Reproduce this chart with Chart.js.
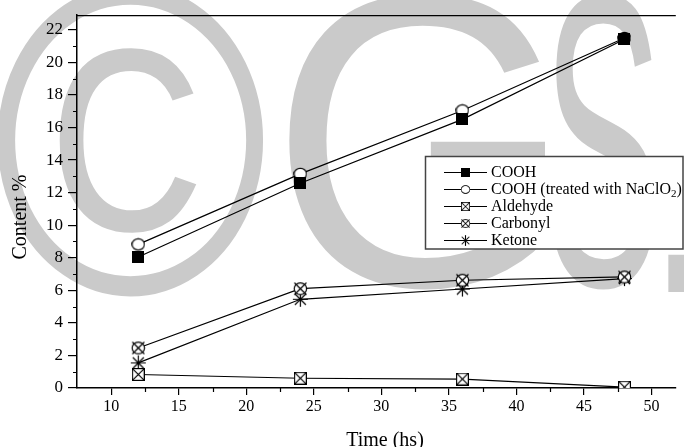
<!DOCTYPE html>
<html><head><meta charset="utf-8">
<script src="https://cdn.jsdelivr.net/npm/chart.js@4"></script>
<style>html,body{margin:0;padding:0;background:#fff}#wrap{width:684px;height:447px;position:relative}</style>
</head><body><div id="wrap"><canvas id="c" width="684" height="447"></canvas></div>
<script>
// ---- data ----
const times = [12, 24, 36, 48];
const cooh = [8.05, 12.58, 16.5, 21.42];
const coohNaClO2 = [8.82, 13.15, 17.05, 21.5];
const aldehyde = [0.83, 0.6, 0.55, 0.05];
const carbonyl = [2.46, 6.1, 6.62, 6.82];
const ketone = [1.54, 5.45, 6.08, 6.72];
const seriesNames = ['COOH', 'COOH (treated with NaClO', 'Aldehyde', 'Carbonyl', 'Ketone'];
const xTitle = 'Time (hs)';
const yTitle = 'Content %';
const watermark = ['\u00A9', 'G', 'S', '.'];

const SERIF = '"Liberation Serif","Times New Roman",serif';

function mk(size, draw) {
  const c = document.createElement('canvas');
  c.width = size; c.height = size;
  const g = c.getContext('2d');
  g.strokeStyle = '#000'; g.lineWidth = 1.2;
  draw(g, size);
  return c;
}
const mSquareFill = mk(12, (g, s) => { g.fillStyle = '#000'; g.fillRect(0, 0, s, s); });
const mCircle = mk(14, (g, s) => {
  g.fillStyle = '#fff'; g.beginPath(); g.ellipse(7, 7, 6.2, 5.6, 0, 0, Math.PI * 2); g.fill(); g.stroke();
});
const mSqX = mk(13, (g, s) => {
  g.fillStyle = '#fff'; g.fillRect(0.6, 0.6, 11.8, 11.8); g.strokeRect(0.6, 0.6, 11.8, 11.8);
  g.beginPath(); g.moveTo(0.6, 0.6); g.lineTo(12.4, 12.4); g.moveTo(12.4, 0.6); g.lineTo(0.6, 12.4); g.stroke();
});
const mCircX = mk(15, (g, s) => {
  g.fillStyle = '#fff'; g.beginPath(); g.ellipse(7.5, 7.5, 6.2, 5.8, 0, 0, Math.PI * 2); g.fill(); g.stroke();
  g.beginPath(); g.moveTo(1.5, 1.5); g.lineTo(13.5, 13.5); g.moveTo(13.5, 1.5); g.lineTo(1.5, 13.5); g.stroke();
});
const mStar = mk(17, (g, s) => {
  g.beginPath();
  g.moveTo(1, 8.5); g.lineTo(16, 8.5);
  g.moveTo(8.5, 1); g.lineTo(8.5, 16);
  g.moveTo(3, 3); g.lineTo(14, 14); g.moveTo(14, 3); g.lineTo(3, 14);
  g.stroke();
});
const markers = [mSquareFill, mCircle, mSqX, mCircX, mStar];

function ds(label, arr, marker) {
  return {
    label, data: times.map((t, i) => ({ x: t, y: arr[i] })),
    borderColor: '#000', borderWidth: 1.2, backgroundColor: '#000',
    pointStyle: marker, pointRadius: 7, pointHoverRadius: 7, tension: 0
  };
}

function glyph(ctx, ch, left, right, top, bottom) {
  ctx.save();
  ctx.font = '400px "Liberation Sans", Arial, sans-serif';
  ctx.textAlign = 'left'; ctx.textBaseline = 'alphabetic';
  const m = ctx.measureText(ch);
  const w = m.actualBoundingBoxLeft + m.actualBoundingBoxRight;
  const h = m.actualBoundingBoxAscent + m.actualBoundingBoxDescent;
  ctx.translate(left, top);
  ctx.scale((right - left) / w, (bottom - top) / h);
  ctx.fillText(ch, m.actualBoundingBoxLeft, m.actualBoundingBoxAscent);
  ctx.restore();
}

const deco = {
  id: 'deco',
  beforeDraw(chart) {
    const ctx = chart.ctx;
    ctx.save();
    ctx.fillStyle = 'rgb(202,202,202)';
    glyph(ctx, watermark[0], -8, 268, -18, 300);
    glyph(ctx, watermark[1], 288, 545, -8, 292);
    glyph(ctx, watermark[2], 548, 655, -8, 292);
    glyph(ctx, watermark[3], 664, 700, 254, 292);
    ctx.restore();
  },
  afterDraw(chart) {
    const ctx = chart.ctx, a = chart.chartArea;
    const xs = chart.scales.x, ys = chart.scales.y;
    ctx.save();
    ctx.strokeStyle = '#000'; ctx.lineWidth = 1.3;
    ctx.beginPath(); ctx.moveTo(a.left, a.top + 0.5); ctx.lineTo(a.right, a.top + 0.5); ctx.stroke();
    ctx.lineWidth = 1.2;
    ctx.beginPath();
    for (let v = 12.5; v < 51; v += 5) {
      const px = Math.round(xs.getPixelForValue(v)) + 0.5;
      ctx.moveTo(px, a.bottom); ctx.lineTo(px, a.bottom + 4);
    }
    for (let v = 1; v < 22.5; v += 2) {
      const py = Math.round(ys.getPixelForValue(v)) + 0.5;
      ctx.moveTo(a.left, py); ctx.lineTo(a.left - 4, py);
    }
    ctx.stroke();
    ctx.fillStyle = '#000';
    ctx.font = '20px ' + SERIF;
    ctx.textAlign = 'center'; ctx.textBaseline = 'alphabetic';
    ctx.fillText(xTitle, 385, 446);
    ctx.save();
    ctx.translate(26, 217); ctx.rotate(-Math.PI / 2);
    ctx.fillText(yTitle, 0, 0);
    ctx.restore();
    const L = 425.5, T = 156.5, R = 683, B = 249;
    ctx.fillStyle = '#fff';
    ctx.fillRect(L, T, R - L, B - T);
    ctx.strokeStyle = '#444'; ctx.lineWidth = 1.5;
    ctx.strokeRect(L, T, R - L, B - T);
    ctx.font = '16px ' + SERIF;
    ctx.textAlign = 'left'; ctx.textBaseline = 'middle';
    const rows = [172, 189, 206, 223, 240];
    rows.forEach((ry, i) => {
      ctx.strokeStyle = '#000'; ctx.lineWidth = 1.2;
      ctx.beginPath(); ctx.moveTo(444, ry + 0.5); ctx.lineTo(487, ry + 0.5); ctx.stroke();
      const m = markers[i];
      const w = m.width * 0.7;
      ctx.drawImage(m, 465.5 - w / 2, ry + 0.5 - w / 2, w, w);
      ctx.fillStyle = '#000';
      ctx.fillText(seriesNames[i], 491, ry + 1);
      if (i === 1) {
        const tw = ctx.measureText(seriesNames[i]).width;
        ctx.font = '11px ' + SERIF;
        ctx.fillText('2', 491 + tw, ry + 5);
        const sw = ctx.measureText('2').width;
        ctx.font = '16px ' + SERIF;
        ctx.fillText(')', 491 + tw + sw, ry + 1);
      }
    });
    ctx.restore();
  }
};

new Chart(document.getElementById('c'), {
  type: 'line',
  data: {
    datasets: [
      ds(seriesNames[0], cooh, mSquareFill),
      ds(seriesNames[1] + '2)', coohNaClO2, mCircle),
      ds(seriesNames[2], aldehyde, mSqX),
      ds(seriesNames[3], carbonyl, mCircX),
      ds(seriesNames[4], ketone, mStar)
    ]
  },
  options: {
    responsive: false, animation: false, devicePixelRatio: 1,
    layout: { padding: { top: 12, right: 0, left: 0, bottom: 0 } },
    plugins: { legend: { display: false }, tooltip: { enabled: false } },
    scales: {
      x: {
        type: 'linear', min: 7.465, max: 51.8,
        ticks: { stepSize: 5, includeBounds: false, color: '#000', padding: 2, font: { family: SERIF, size: 16 } },
        grid: { drawOnChartArea: false, drawTicks: true, tickLength: 7, color: '#000', lineWidth: 1.2 },
        border: { display: true, color: '#000', width: 1.5 },
        afterFit: s => { s.height = 59; }
      },
      y: {
        type: 'linear', min: 0, max: 22.9,
        ticks: { stepSize: 2, includeBounds: false, color: '#000', padding: 5, font: { family: SERIF, size: 17 } },
        grid: { drawOnChartArea: false, drawTicks: true, tickLength: 9, color: '#000', lineWidth: 1.2 },
        border: { display: true, color: '#000', width: 1.5 },
        afterFit: s => { s.width = 77; }
      }
    }
  },
  plugins: [deco]
});
</script>
</body></html>
